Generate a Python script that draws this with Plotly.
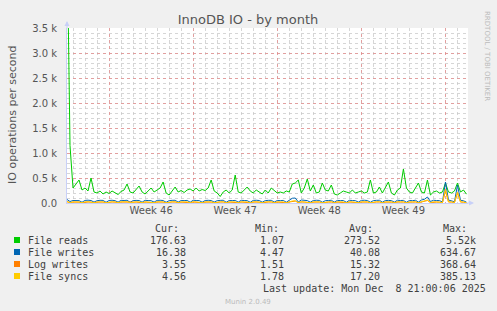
import plotly.graph_objects as go
import pandas as pd

# ---------------- data ----------------
x_start = "2025-11-05 12:00"
x_end = "2025-12-08 21:00"
sample_step = "6h"

reads = [5520, 1150, 300, 380, 460, 260, 300, 240, 500,
         220, 200, 240, 180, 220, 190, 240, 200, 170, 230,
         260, 380, 220, 200, 260, 340, 220, 180, 240, 300,
         220, 260, 300, 420, 200, 160, 240, 320, 220, 250,
         210, 260, 280, 240, 300, 240, 270, 250, 300, 460,
         240, 200, 130, 220, 260, 200, 260, 560, 220, 200,
         260, 320, 240, 200, 260, 220, 180, 260, 200, 300,
         240, 200, 220, 200, 240, 220, 380, 400, 460, 200,
         300, 480, 240, 360, 200, 220, 400, 260, 240, 360,
         180, 160, 200, 240, 220, 200, 260, 200, 220, 240,
         200, 220, 460, 200, 220, 320, 200, 300, 420, 200,
         160, 260, 300, 680, 300, 220, 200, 300, 400, 220,
         200, 460, 160, 220, 240, 200, 220, 400, 220, 200,
         240, 400, 220, 260, 176.63]

writes = [70, 30, 50, 55, 48, 15, 52, 56, 50, 18, 46, 54, 52, 14, 50, 55,
          47, 17, 53, 50, 55, 15, 48, 52, 50, 16, 54, 49, 46, 18, 52, 55,
          50, 14, 47, 53, 55, 17, 50, 48, 52, 15, 55, 50, 48, 16, 50, 54,
          50, 18, 47, 52, 55, 15, 50, 48, 52, 17, 54, 50, 47, 14, 52, 55,
          50, 16, 48, 53, 54, 18, 50, 47, 52, 15, 55, 95, 100, 20, 60, 52,
          48, 16, 50, 55, 52, 15, 47, 50, 55, 17, 52, 48, 50, 14, 54, 50,
          47, 18, 52, 55, 50, 15, 48, 53, 55, 16, 50, 52, 48, 17, 55, 50,
          52, 14, 50, 47, 55, 18, 60, 75, 120, 30, 55, 50, 48, 20, 420, 60,
          50, 25, 360, 55, 45, 16.38]

log_writes = [25, 6, 18, 20, 17, 4, 19, 20, 18, 5, 17, 20, 19, 3, 18, 20,
              17, 5, 19, 18, 20, 4, 17, 19, 18, 4, 20, 17, 17, 5, 19, 20,
              18, 3, 17, 20, 20, 5, 18, 17, 19, 4, 20, 18, 17, 4, 18, 20,
              18, 5, 17, 19, 20, 4, 18, 17, 19, 5, 20, 18, 17, 3, 19, 20,
              18, 4, 17, 20, 20, 5, 18, 17, 19, 4, 20, 35, 38, 7, 21, 19,
              17, 4, 18, 20, 19, 4, 17, 18, 20, 5, 19, 17, 18, 3, 20, 18,
              17, 5, 19, 20, 18, 4, 17, 20, 20, 4, 18, 19, 17, 5, 20, 18,
              19, 3, 18, 17, 20, 5, 23, 30, 50, 8, 20, 18, 17, 6, 240, 20,
              18, 7, 200, 19, 16, 3.55]

syncs = [30, 8, 22, 24, 20, 5, 23, 25, 22, 6, 20, 24, 23, 4, 22, 25,
         21, 6, 24, 22, 25, 5, 21, 23, 22, 5, 24, 21, 20, 6, 23, 25,
         22, 4, 21, 24, 25, 6, 22, 21, 23, 5, 25, 22, 21, 5, 22, 24,
         22, 6, 21, 23, 25, 5, 22, 21, 23, 6, 24, 22, 21, 4, 23, 25,
         22, 5, 21, 24, 24, 6, 22, 21, 23, 5, 25, 40, 45, 8, 26, 23,
         21, 5, 22, 25, 23, 5, 21, 22, 25, 6, 23, 21, 22, 4, 24, 22,
         21, 6, 23, 25, 22, 5, 21, 24, 25, 5, 22, 23, 21, 6, 25, 22,
         23, 4, 22, 21, 25, 6, 28, 35, 60, 10, 24, 22, 21, 8, 280, 25,
         22, 9, 220, 24, 20, 4.56]

series_names = ["File reads", "File writes", "Log writes", "File syncs"]
series_colors = ["#00CC00", "#0066B3", "#FF8000", "#FFCC00"]
cur_vals = ["176.63", "16.38", "3.55", "4.56"]
min_vals = ["1.07", "4.47", "1.51", "1.78"]
avg_vals = ["273.52", "40.08", "15.32", "17.20"]
max_vals = ["5.52k", "634.67", "368.64", "385.13"]

week_starts = ["2025-11-09", "2025-11-16", "2025-11-23", "2025-11-30", "2025-12-07"]
week_centers = ["2025-11-12 12:00", "2025-11-19 12:00", "2025-11-26 12:00", "2025-12-03 12:00"]
week_labels = ["Week 46", "Week 47", "Week 48", "Week 49"]

y_ticks = [0, 500, 1000, 1500, 2000, 2500, 3000, 3500]
y_ticktext = ["0.0", "0.5 k", "1.0 k", "1.5 k", "2.0 k", "2.5 k", "3.0 k", "3.5 k"]

title_text = "InnoDB IO - by month"
y_title = "IO operations per second"
last_update = "Last update: Mon Dec \u00a08 21:00:06 2025"
footer = "Munin 2.0.49"
side_text = "RRDTOOL / TOBI OETIKER"

# ---------------- style ----------------
W, H = 497, 311
L, R, T, B = 67, 468, 28, 203
TXT = "#555555"
LEG = "#404040"
GRID = "rgba(200,200,200,0.75)"
MGRID = "rgba(230,140,140,0.75)"
AXIS = "#C8D0F8"
SANS = "DejaVu Sans"
MONO = "DejaVu Sans Mono"


def xp(px):
    return (px - L) / (R - L)


def yp(py):
    return (B - py) / (B - T)


times = pd.date_range(x_start, periods=len(reads), freq=sample_step)

fig = go.Figure()
for name, vals, col in zip(series_names, [reads, writes, log_writes, syncs], series_colors):
    fig.add_trace(go.Scatter(x=times, y=vals, mode="lines", name=name,
                             line=dict(color=col, width=1), showlegend=False,
                             hoverinfo="skip", xaxis="x", yaxis="y"))

# invisible helper trace so the label axis is rendered
fig.add_trace(go.Scatter(x=[x_start, x_end], y=[0, 0], mode="lines", opacity=0,
                         line=dict(width=0), showlegend=False, hoverinfo="skip",
                         xaxis="x2", yaxis="y"))

fig.update_layout(
    width=W, height=H,
    paper_bgcolor="#F0F0F0", plot_bgcolor="#FFFFFF",
    margin=dict(l=L, r=W - R, t=T, b=H - B, pad=0),
    showlegend=False,
    title=dict(text=title_text, x=248 / W, xanchor="center", y=1 - 19 / H,
               yanchor="middle", xref="container", yref="container",
               font=dict(family=SANS, size=13, color=TXT)),
    xaxis=dict(type="date", range=[x_start, x_end], tickmode="array",
               tickvals=week_starts, showticklabels=False, ticks="",
               showgrid=True, gridcolor=MGRID, griddash="dot", gridwidth=1,
               minor=dict(tickmode="linear", tick0="2025-11-06", dtick=86400000,
                          showgrid=True, gridcolor=GRID, griddash="dot", ticks=""),
               showline=True, linecolor=AXIS, linewidth=1, zeroline=False),
    xaxis2=dict(type="date", overlaying="x", matches="x", anchor="y", side="bottom",
                tickmode="array", tickvals=week_centers, ticktext=week_labels,
                showgrid=False, showline=False, ticks="", zeroline=False,
                tickfont=dict(family=SANS, size=10, color=TXT)),
    yaxis=dict(range=[0, 3500], tickmode="array", tickvals=y_ticks, ticktext=y_ticktext,
               showgrid=True, gridcolor=MGRID, griddash="dot", gridwidth=1,
               minor=dict(tickmode="linear", tick0=0, dtick=100, showgrid=True,
                          gridcolor=GRID, griddash="dot", ticks=""),
               showline=True, linecolor=AXIS, linewidth=1, zeroline=False,
               ticks="", ticklabelstandoff=7,
               tickfont=dict(family=SANS, size=10, color=TXT)),
)

ann = []
# axis title and side text
ann.append(dict(text=y_title, x=xp(12), y=yp(115), xref="paper", yref="paper",
                textangle=-90, showarrow=False, xanchor="center", yanchor="middle",
                font=dict(family=SANS, size=11, color=TXT)))
ann.append(dict(text=side_text, x=xp(487), y=yp(56), xref="paper", yref="paper",
                textangle=90, showarrow=False, xanchor="center", yanchor="middle",
                font=dict(family=SANS, size=7, color="#BBBBBB")))
# axis arrows
ann.append(dict(text="", x=0, y=yp(21), xref="paper", yref="paper", ax=0, ay=9,
                showarrow=True, arrowhead=2, arrowsize=1, arrowwidth=1, arrowcolor=AXIS))
ann.append(dict(text="", x=xp(474), y=0, xref="paper", yref="paper", ax=-9, ay=0,
                showarrow=True, arrowhead=2, arrowsize=1, arrowwidth=1, arrowcolor=AXIS))

mono = dict(family=MONO, size=10, color=LEG)
# header
for txt, rx in zip(["Cur:", "Min:", "Avg:", "Max:"], [180, 280, 374, 468]):
    ann.append(dict(text=txt, x=xp(rx), y=yp(228), xref="paper", yref="paper",
                    showarrow=False, xanchor="right", yanchor="middle", font=mono, borderpad=0))

shapes = []
row_y = [240, 252, 264, 276]
for i, name in enumerate(series_names):
    ry = row_y[i]
    shapes.append(dict(type="rect", xref="paper", yref="paper",
                       x0=xp(14), x1=xp(20), y0=yp(ry + 3), y1=yp(ry - 3),
                       fillcolor=series_colors[i], line=dict(width=0)))
    ann.append(dict(text=name, x=xp(27), y=yp(ry), xref="paper", yref="paper",
                    showarrow=False, xanchor="left", yanchor="middle", font=mono, borderpad=0))
    for txt, rx in zip([cur_vals[i], min_vals[i], avg_vals[i], max_vals[i]], [187, 285, 381, 477]):
        ann.append(dict(text=txt, x=xp(rx), y=yp(ry), xref="paper", yref="paper",
                        showarrow=False, xanchor="right", yanchor="middle", font=mono, borderpad=0))

ann.append(dict(text=last_update, x=xp(262), y=yp(288), xref="paper", yref="paper",
                showarrow=False, xanchor="left", yanchor="middle", font=mono, borderpad=0))
ann.append(dict(text=footer, x=xp(248), y=yp(302), xref="paper", yref="paper",
                showarrow=False, xanchor="center", yanchor="middle",
                font=dict(family=SANS, size=7, color="#BBBBBB"), borderpad=0))

fig.update_layout(annotations=ann, shapes=shapes)

fig.write_html("out.html")
